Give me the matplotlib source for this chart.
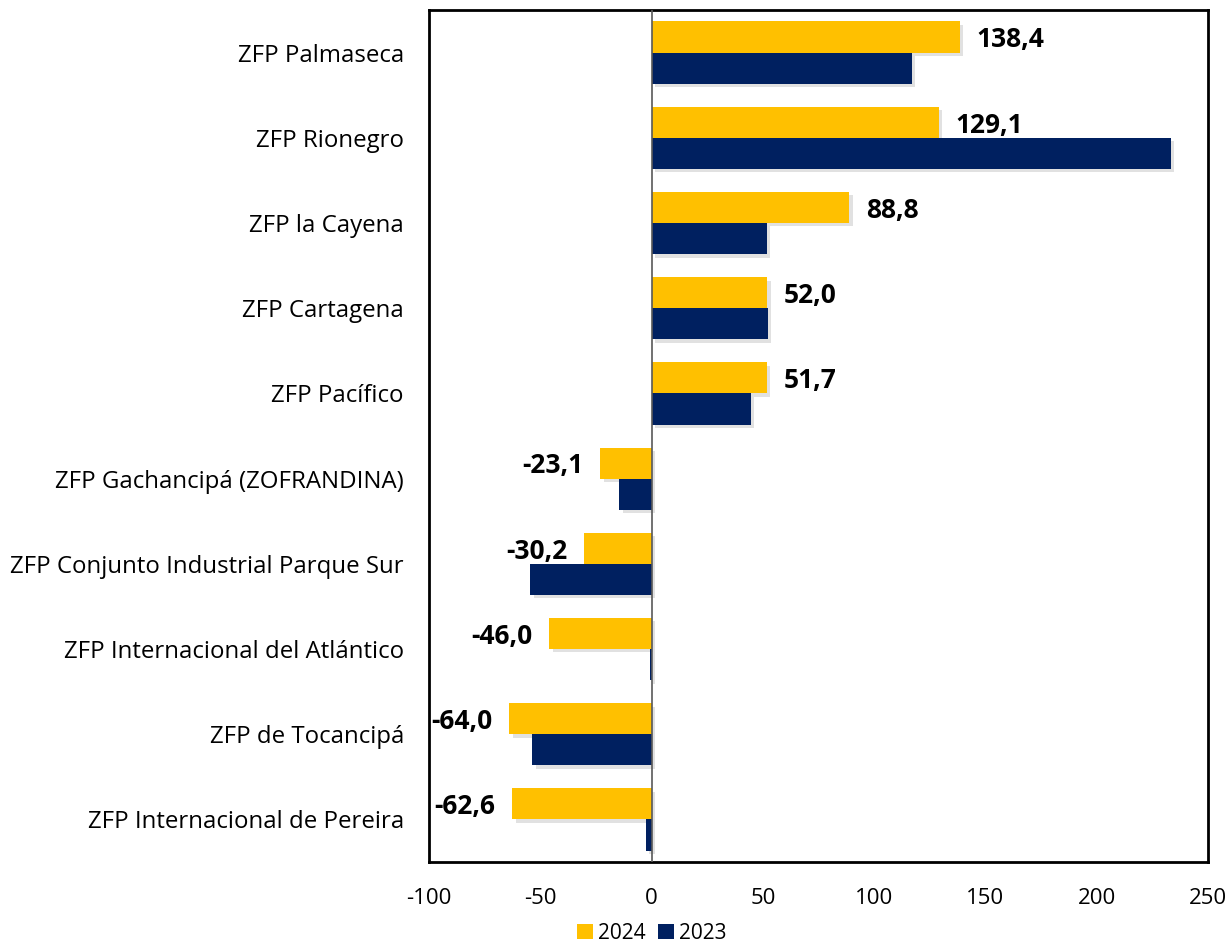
import matplotlib
matplotlib.use("Agg")
import matplotlib.pyplot as plt
import matplotlib.patheffects as pe
from matplotlib.patches import Patch
import numpy as np

categories = ["ZFP Palmaseca", "ZFP Rionegro", "ZFP la Cayena", "ZFP Cartagena", "ZFP Pacífico",
              "ZFP Gachancipá (ZOFRANDINA)", "ZFP Conjunto Industrial Parque Sur",
              "ZFP Internacional del Atlántico", "ZFP de Tocancipá", "ZFP Internacional de Pereira"]
values_2024 = [138.4, 129.1, 88.8, 52.0, 51.7, -23.1, -30.2, -46.0, -64.0, -62.6]
values_2023 = [116.8, 233.3, 51.8, 52.3, 44.6, -14.6, -54.6, -0.7, -53.6, -2.5]
xticks = [-100, -50, 0, 50, 100, 150, 200, 250]

plt.rcParams['font.family'] = ['Open Sans', 'DejaVu Sans']

fig = plt.figure(figsize=(12.32, 9.42), dpi=100)
ax = fig.add_axes([0.3482, 0.0849, 0.6323, 0.9045])

y = np.arange(len(categories))
h = 0.365
c24 = "#FFC000"
c23 = "#002060"
shadow = [pe.SimplePatchShadow(offset=(2.5, -2.5), shadow_rgbFace="#888888", alpha=0.25), pe.Normal()]

b24 = ax.barh(y - h / 2, values_2024, height=h, color=c24, label="2024", zorder=2)
b23 = ax.barh(y + h / 2, values_2023, height=h, color=c23, label="2023", zorder=3)
for b in list(b23) + list(b24):
    b.set_path_effects(shadow)

for yi, v in zip(y, values_2024):
    txt = f"{v:.1f}".replace(".", ",")
    if v >= 0:
        ax.annotate(txt, (v, yi - h / 2), xytext=(12, -2), textcoords="offset points",
                    ha="left", va="center", fontsize=19, fontweight="bold", zorder=5)
    else:
        ax.annotate(txt, (v, yi - h / 2), xytext=(-12, -2), textcoords="offset points",
                    ha="right", va="center", fontsize=19, fontweight="bold", zorder=5)

ax.axvline(0, color="#595959", lw=1.2, zorder=4)
ax.set_xlim(-100, 250)
ax.set_ylim(len(categories) - 0.5, -0.5)
ax.set_xticks(xticks)
ax.set_xticklabels([str(t) for t in xticks], fontsize=16)
ax.set_yticks(y)
ax.set_yticklabels(categories, fontsize=17.3)
ax.tick_params(axis="both", length=0)
ax.tick_params(axis="y", pad=18)
ax.tick_params(axis="x", pad=19)
for s in ax.spines.values():
    s.set_linewidth(2)
    s.set_color("black")

handles = [Patch(facecolor=c24), Patch(facecolor=c23)]
fig.legend(handles, ["2024", "2023"], loc="center", bbox_to_anchor=(0.529, 0.0095), ncol=2,
           frameon=False, fontsize=15, handlelength=0.75, handleheight=0.75, handletextpad=0.25,
           columnspacing=0.6, borderpad=0)

fig.savefig("out.png", dpi=100)
